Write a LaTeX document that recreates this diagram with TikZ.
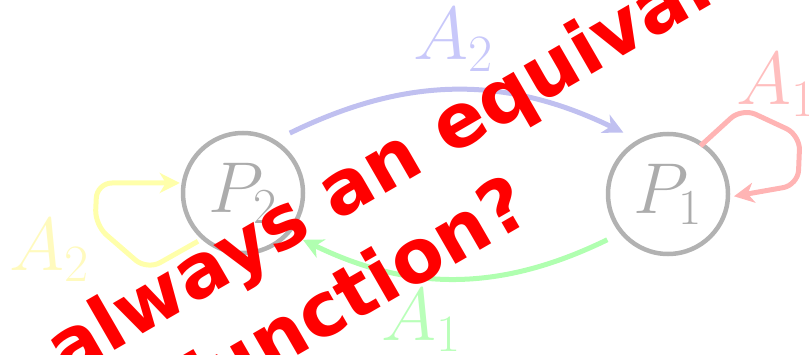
\RequirePackage{fix-cm}
\documentclass[tikz,border=0pt]{standalone}
\usepackage{fontspec}
\newfontfamily\warnfont{DejaVu Sans}
\usetikzlibrary{arrows.meta,calc}
\definecolor{circgray}{RGB}{178,178,178}
\definecolor{ptext}{RGB}{172,172,172}
\definecolor{eblue}{RGB}{192,192,240}
\definecolor{lblue}{RGB}{200,200,250}
\definecolor{ered}{RGB}{255,180,180}
\definecolor{lred}{RGB}{255,190,190}
\definecolor{eyellow}{RGB}{255,255,170}
\definecolor{lyellow}{RGB}{255,250,190}
\definecolor{egreen}{RGB}{176,255,176}
\definecolor{lgreen}{RGB}{185,255,185}
\begin{document}
\begin{tikzpicture}[x=1pt,y=1pt,
  state/.style={circle, draw=circgray, line width=4.5pt, minimum size=120pt,
    inner sep=0pt, outer sep=16pt, text=ptext, font=\fontsize{72}{80}\selectfont},
  edgeline/.style={line width=5pt, -{Stealth[length=20pt,width=20pt,inset=6pt]}},
  lab/.style={inner sep=0pt, anchor=base west, font=\fontsize{75}{80}\selectfont},
  warn/.style={inner sep=0pt, anchor=base west, text=red, rotate=30,
    font=\warnfont\bfseries\fontsize{75}{90}\selectfont}]
\path[use as bounding box] (0,0) rectangle (809,354);
\clip (0,0) rectangle (809,354);
\node[state] (P2) at (243,161) {$P_2$};
\node[state] (P1) at (668,160) {$P_1$};
% edges between states
\draw[edgeline, eblue] (P2.52) to[bend left=26] (P1.126);
\draw[edgeline, egreen] (P1.217) to[bend left=26] (P2.-38);
% self loops
\draw[edgeline, ered, rounded corners=15pt] ($(P1.center)+(56:58)$) -- (742,246) -- (800,219) -- (798,169) -- ($(P1.center)+(-2:66)$);
\draw[edgeline, eyellow, rounded corners=15pt] ($(P2.center)+(227:66)$) -- (147,84) -- (95,129) -- (97,171) -- ($(P2.center)+(171:64)$);
% labels
\node[lab, text=lblue] (LA2b) at (413,294) {$A_2$};
\node[lab, text=lred] (LA1r) at (736,249) {$A_1$};
\node[lab, text=lyellow] (LA2y) at (9,84) {$A_2$};
\node[lab, text=lgreen] (LA1g) at (381,14) {$A_1$};
% overlay text
\node[warn] (W1) at (65,-24.5) {always an equivalent};
\node[warn] (W2) at (193.5,-61.7) {function?};
\end{tikzpicture}
\end{document}
